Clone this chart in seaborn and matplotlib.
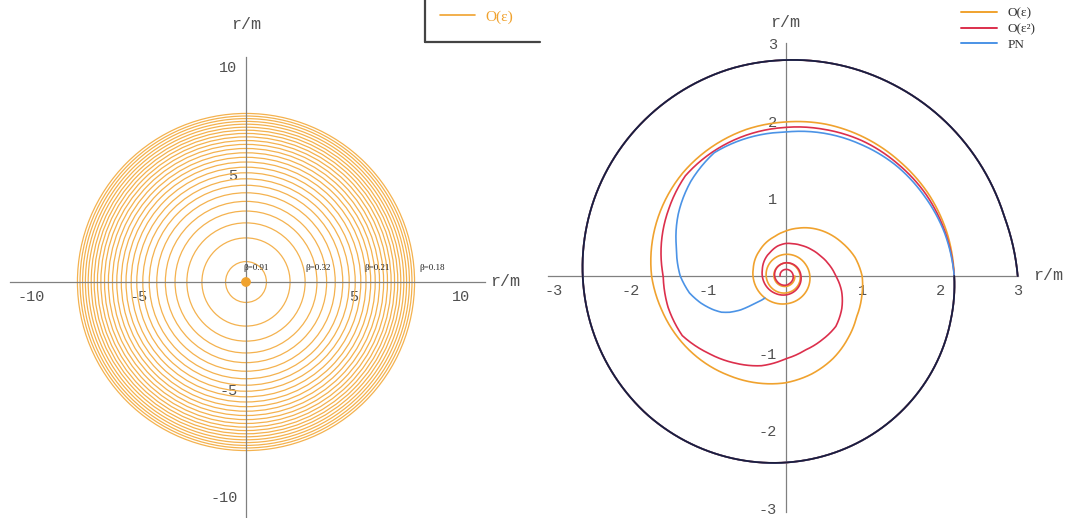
""" Orbits r/m: O(eps) rings (left) and O(eps), O(eps^2), PN inspirals (right).
"""

import numpy as np
import matplotlib
matplotlib.use('Agg')
import matplotlib.pyplot as plt
import seaborn as sns
from matplotlib.patches import Circle
from matplotlib.lines import Line2D

# ---- left panel: rings of the O(eps) orbit (r/m) ----
ring_radii = [0.95, 2.05, 2.75, 3.3, 3.75, 4.15, 4.5, 4.8, 5.08, 5.34,
              5.58, 5.8, 6.01, 6.21, 6.4, 6.58, 6.75, 6.91, 7.06, 7.2,
              7.34, 7.47, 7.6, 7.72, 7.84]
core_radius = 0.2
beta_labels = ['β=0.91', 'β=0.32', 'β=0.21', 'β=0.18']
beta_x = [0.47, 3.35, 6.1, 8.65]
beta_y = 0.45

# ---- right panel: orbits as (angle in degrees, r/m) ----
# first orbit, shared by every curve
common_theta = np.arange(0, 361, 15)
common_r = [3.00, 2.93, 2.90, 2.87, 2.84, 2.815, 2.79, 2.77, 2.74, 2.71,
            2.68, 2.65, 2.62, 2.59, 2.56, 2.53, 2.49, 2.45, 2.41, 2.37,
            2.33, 2.29, 2.25, 2.21, 2.18]

# O(eps)
orange_theta = np.r_[np.arange(360, 901, 15), np.arange(930, 1801, 30)]
orange_r = [2.18, 2.16, 2.13, 2.09, 2.06, 2.03, 1.99, 1.96, 1.92, 1.88,
            1.83, 1.78, 1.73, 1.66, 1.60, 1.54, 1.48, 1.43, 1.38, 1.31,
            1.23, 1.14, 1.06, 1.02, 0.99, 0.93, 0.85, 0.78, 0.71, 0.64,
            0.58, 0.53, 0.50, 0.47, 0.45, 0.43, 0.42,
            0.40, 0.38, 0.36, 0.345, 0.33, 0.315, 0.30, 0.29, 0.28, 0.27,
            0.26, 0.25, 0.24, 0.23, 0.22, 0.21, 0.20, 0.19, 0.18, 0.175,
            0.17, 0.16, 0.155, 0.15, 0.145, 0.14, 0.135, 0.13, 0.125, 0.12]

# O(eps^2)
red_theta = np.r_[np.arange(360, 901, 15), np.arange(930, 1621, 30)]
red_r = [2.18, 2.14, 2.10, 2.05, 2.01, 1.96, 1.92, 1.89, 1.86, 1.83,
         1.74, 1.66, 1.58, 1.57, 1.54, 1.41, 1.30, 1.20, 1.07, 0.99,
         0.95, 0.92, 0.84, 0.75, 0.65, 0.58, 0.52, 0.48, 0.45, 0.43,
         0.42, 0.40, 0.37, 0.35, 0.33, 0.31, 0.30,
         0.28, 0.26, 0.245, 0.23, 0.215, 0.20, 0.19, 0.18, 0.17, 0.16,
         0.15, 0.14, 0.13, 0.125, 0.12, 0.11, 0.105, 0.10, 0.095, 0.09,
         0.085, 0.08, 0.075, 0.07]

# PN
blue_theta = [360, 375, 390, 405, 420, 435, 450, 465, 480, 495, 510, 525,
              540, 550, 557.6, 565, 569.5, 573, 577, 581, 587]
blue_r = [2.18, 2.13, 2.07, 2.02, 1.96, 1.91, 1.86, 1.85, 1.84, 1.73, 1.60,
          1.46, 1.36, 1.26, 1.15, 1.03, 0.95, 0.86, 0.73, 0.56, 0.39]

legend_labels = ['O(ε)', 'O(ε²)', 'PN']

c_ring = '#f4b24f'
c_orange = '#f0a22e'
c_red = '#dc2f4c'
c_blue = '#4b93e6'
c_black = '#1c1c3c'
c_axis = '#808080'
c_text = '#505050'

sns.set_theme(style='white')
plt.rcParams['font.family'] = ['Liberation Mono', 'DejaVu Sans Mono']
plt.rcParams['axes.unicode_minus'] = False

W, H = 1067, 518


def style_axes(ax, xlim, ylim, xticks, yticks):
    ax.set_xlim(xlim)
    ax.set_ylim(ylim)
    ax.set_facecolor('white')
    for s in ['top', 'right']:
        ax.spines[s].set_visible(False)
    for s in ['left', 'bottom']:
        ax.spines[s].set_position('zero')
        ax.spines[s].set_color(c_axis)
        ax.spines[s].set_linewidth(0.9)
    ax.set_xticks(xticks)
    ax.set_yticks(yticks)
    ax.set_xticklabels([str(v) for v in xticks])
    ax.set_yticklabels([str(v) for v in yticks])
    ax.tick_params(direction='inout', length=4, width=0.8, colors=c_axis,
                   labelcolor=c_text, labelsize=11, pad=4)
    ax.grid(False)


fig = plt.figure(figsize=(W / 100, H / 100), dpi=100)

# ---------------- left panel ----------------
sc_l = 21.5
x0_l, y0_l = 246, 282
axl = fig.add_axes([10 / W, 0, 475 / W, (H - 57) / H])
style_axes(axl, ((10 - x0_l) / sc_l, (485 - x0_l) / sc_l),
           ((y0_l - H) / sc_l, (y0_l - 57) / sc_l),
           [-10, -5, 5, 10], [-10, -5, 5, 10])
for rad in ring_radii:
    axl.add_patch(Circle((0, 0), rad, fill=False, ec=c_ring, lw=0.9, zorder=2))
axl.add_patch(Circle((0, 0), core_radius, fc=c_orange, ec=c_orange, lw=0.8, zorder=3))
for lab, bx in zip(beta_labels, beta_x):
    axl.text(bx, beta_y, lab, ha='center', va='bottom', fontsize=6.5,
             color='#222222', family='Liberation Serif', zorder=4)
axl.text((490 - x0_l) / sc_l, 0, 'r/m', ha='left', va='center',
         fontsize=12, color=c_text, clip_on=False)
axl.text(0, (y0_l - 25) / sc_l, 'r/m', ha='center', va='center',
         fontsize=12, color=c_text, clip_on=False)

# ---------------- right panel ----------------
sc_r = 77.4
x0_r, y0_r = 785.5, 276
axr = fig.add_axes([548 / W, (H - 512) / H, 470 / W, 469 / H])
style_axes(axr, ((548 - x0_r) / sc_r, (1018 - x0_r) / sc_r),
           ((y0_r - 512) / sc_r, (y0_r - 43) / sc_r),
           [-3, -2, -1, 1, 2, 3], [-3, -2, -1, 1, 2, 3])

axr.text((1033 - x0_r) / sc_r, 0, 'r/m', ha='left', va='center',
         fontsize=12, color=c_text, clip_on=False)
axr.text(0, (y0_r - 22) / sc_r, 'r/m', ha='center', va='center',
         fontsize=12, color=c_text, clip_on=False)

# polar axes laid exactly over the cartesian one, so the orbits are drawn
# as (theta, r) curves by matplotlib's polar transform
r_max = 3.2
half = r_max * sc_r
pax = fig.add_axes([(x0_r - half) / W, (H - y0_r - half) / H,
                    2 * half / W, 2 * half / H], projection='polar')
pax.set_rlim(0, r_max)
pax.set_axis_off()

curves = [
    (np.r_[common_theta, orange_theta], np.r_[common_r, orange_r], c_orange, 1.2),
    (np.r_[common_theta, red_theta], np.r_[common_r, red_r], c_red, 1.2),
    (np.r_[common_theta, blue_theta], np.r_[common_r, blue_r], c_blue, 1.2),
    (common_theta, np.asarray(common_r), c_black, 1.3),
]
for th, rr, col, lw in curves:
    sns.lineplot(x=np.deg2rad(th), y=rr, sort=False, estimator=None,
                 color=col, lw=lw, ax=pax)
for ln in pax.lines:
    ln.get_path()._interpolation_steps = 24

# ---------------- legends ----------------
fig.legend([Line2D([], [], color=c_orange, lw=1.2)], ['O(ε)'],
           loc='center left', bbox_to_anchor=(440 / W, 1 - 17 / H),
           frameon=False, borderpad=0, borderaxespad=0, handlelength=2.3,
           handletextpad=0.7, prop={'family': 'Liberation Serif', 'size': 11},
           labelcolor=c_orange)
fig.add_artist(Line2D([425 / W, 425 / W], [1.0, 1 - 42 / H], color='#444444', lw=1.6))
fig.add_artist(Line2D([425 / W, 540 / W], [1 - 42 / H, 1 - 42 / H], color='#444444', lw=1.6))

handles = [Line2D([], [], color=c, lw=1.4) for c in (c_orange, c_red, c_blue)]
fig.legend(handles, legend_labels, loc='upper left',
           bbox_to_anchor=(961 / W, 1 - 7 / H), frameon=False, borderpad=0,
           borderaxespad=0, handlelength=2.7, handletextpad=0.8,
           labelspacing=0.28, prop={'family': 'Liberation Serif', 'size': 9.5},
           labelcolor='#333333')

plt.savefig('out.png', dpi=100, facecolor='white')
plt.close()
